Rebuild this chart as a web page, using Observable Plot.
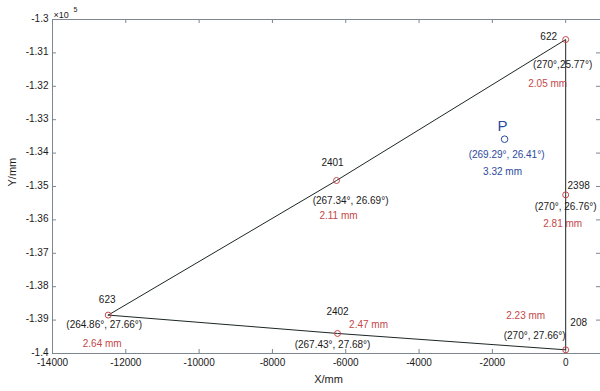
<!DOCTYPE html>
<html>
<head>
<meta charset="utf-8">
<script src="https://cdn.jsdelivr.net/npm/d3@7"></script>
<script src="https://cdn.jsdelivr.net/npm/@observablehq/plot@0.6"></script>
<style>
  html, body { margin: 0; padding: 0; background: #fff; overflow: hidden; }
  svg { display: block; }
</style>
</head>
<body>
<div id="chart"></div>
<script>
// ---- data ----
const names = ["622", "2401", "2398", "623", "2402", "208"];
const xs = [0, -6251, 0, -12480, -6224, 0];
const ys = [-130600, -134820, -135250, -138850, -139400, -139890];
const angles = ["(270°,25.77°)", "(267.34°, 26.69°)", "(270°, 26.76°)", "(264.86°, 27.66°)", "(267.43°, 27.68°)", "(270°, 27.66°)"];
const errors = ["2.05 mm", "2.11 mm", "2.81 mm", "2.64 mm", "2.47 mm", "2.23 mm"];
const lineOrder = ["623", "2401", "622", "2398", "208", "2402", "623"];

const pName = "P";
const pX = -1667;
const pY = -133584;
const pAngle = "(269.29°, 26.41°)";
const pError = "3.32 mm";

const xTicks = [-14000, -12000, -10000, -8000, -6000, -4000, -2000, 0];
const yTicks = [-140000, -139000, -138000, -137000, -136000, -135000, -134000, -133000, -132000, -131000, -130000];
const xLabel = "X/mm";
const yLabel = "Y/mm";
const yExponent = "5";

// ---- layout (pixel offsets of labels relative to their point: [name, angle, error]) ----
const labelOffsets = [
  [[-17, -3], [-3, 25], [-18, 44]],
  [[-4, -18], [14, 20], [2, 35]],
  [[13, -9], [0, 12], [-3, 29]],
  [[-1, -15], [-4, 10], [-6, 29]],
  [[0, -22], [-5, 11], [31, -9]],
  [[13, -27], [-31, -14], [-40, -34]]
];
const pOffsets = [[-2, -13], [2, 16], [-2, 33]];

const points = names.map((n, i) => ({name: n, x: xs[i], y: ys[i], angle: angles[i], err: errors[i]}));
const byName = new Map(points.map(p => [p.name, p]));
const path = lineOrder.map(n => byName.get(n));

const AXIS = "#7c8792";
const BLACK = "#1a1a1a";
const RED = "#c4474a";
const BLUE = "#2b4a9c";
const FS = 10;

const labelMarks = [];
points.forEach((p, i) => {
  const [on, oa, oe] = labelOffsets[i];
  labelMarks.push(Plot.text([p], {x: "x", y: "y", text: "name", dx: on[0], dy: on[1], fill: BLACK, fontSize: FS}));
  labelMarks.push(Plot.text([p], {x: "x", y: "y", text: "angle", dx: oa[0], dy: oa[1], fill: BLACK, fontSize: FS}));
  labelMarks.push(Plot.text([p], {x: "x", y: "y", text: "err", dx: oe[0], dy: oe[1], fill: RED, fontSize: FS}));
});
const P = {name: pName, x: pX, y: pY, angle: pAngle, err: pError};
labelMarks.push(Plot.text([P], {x: "x", y: "y", text: "name", dx: pOffsets[0][0], dy: pOffsets[0][1], fill: BLUE, fontSize: 15}));
labelMarks.push(Plot.text([P], {x: "x", y: "y", text: "angle", dx: pOffsets[1][0], dy: pOffsets[1][1], fill: BLUE, fontSize: FS}));
labelMarks.push(Plot.text([P], {x: "x", y: "y", text: "err", dx: pOffsets[2][0], dy: pOffsets[2][1], fill: BLUE, fontSize: FS}));

const xMin = -14000, xMax = 950, yMin = -140000, yMax = -130000;

const chart = Plot.plot({
  width: 600,
  height: 391,
  marginLeft: 52,
  marginRight: 0,
  marginTop: 19,
  marginBottom: 38,
  style: {fontFamily: "'Liberation Sans', Arial, sans-serif", background: "#fff"},
  x: {domain: [xMin, xMax], axis: null},
  y: {domain: [yMin, yMax], axis: null},
  marks: [
    // axis box lines (left, top, bottom)
    Plot.ruleX([xMin], {y1: yMin, y2: yMax, stroke: AXIS, strokeWidth: 1}),
    Plot.ruleY([yMax], {x1: xMin, x2: xMax, stroke: AXIS, strokeWidth: 1}),
    Plot.ruleY([yMin], {x1: xMin, x2: xMax, stroke: AXIS, strokeWidth: 1}),
    // inward ticks
    Plot.ruleX(xTicks, {x: d => d, y1: yMin, y2: yMin, insetBottom: 4, stroke: AXIS}),
    Plot.ruleX(xTicks, {x: d => d, y1: yMax, y2: yMax, insetBottom: -4, stroke: AXIS}),
    Plot.ruleY(yTicks, {y: d => d, x1: xMin, x2: xMin, insetRight: -4, stroke: AXIS}),
    Plot.ruleY(yTicks, {y: d => d, x1: xMax, x2: xMax, insetRight: 4, stroke: AXIS}),
    // tick labels
    Plot.text(xTicks, {x: d => d, frameAnchor: "bottom", dy: 12, text: d => String(d), fill: BLACK, fontSize: FS}),
    Plot.text(yTicks, {y: d => d, frameAnchor: "left", dx: -4, dy: -1, textAnchor: "end", text: d => String(+(d / 1e5).toFixed(2)), fill: BLACK, fontSize: FS}),
    Plot.text(["×10"], {frameAnchor: "top-left", dx: 1, dy: -8, textAnchor: "start", text: d => d, fill: BLACK, fontSize: 9}),
    Plot.text([yExponent], {frameAnchor: "top-left", dx: 21, dy: -12, textAnchor: "start", text: d => d, fill: BLACK, fontSize: 7}),
    // axis titles
    Plot.text([xLabel], {frameAnchor: "bottom", dx: 2, dy: 29, text: d => d, fill: BLACK, fontSize: 11}),
    Plot.text([yLabel], {frameAnchor: "left", dx: -40, rotate: -90, text: d => d, fill: BLACK, fontSize: 11}),
    // lines
    Plot.line(path, {x: "x", y: "y", stroke: "#1c2626", strokeWidth: 1}),
    // markers
    Plot.dot(points, {x: "x", y: "y", r: 3, stroke: RED, strokeWidth: 1, fill: "none"}),
    Plot.dot([P], {x: "x", y: "y", r: 3.3, stroke: BLUE, strokeWidth: 1, fill: "none"}),
    ...labelMarks
  ]
});
document.getElementById("chart").appendChild(chart);
</script>
</body>
</html>
